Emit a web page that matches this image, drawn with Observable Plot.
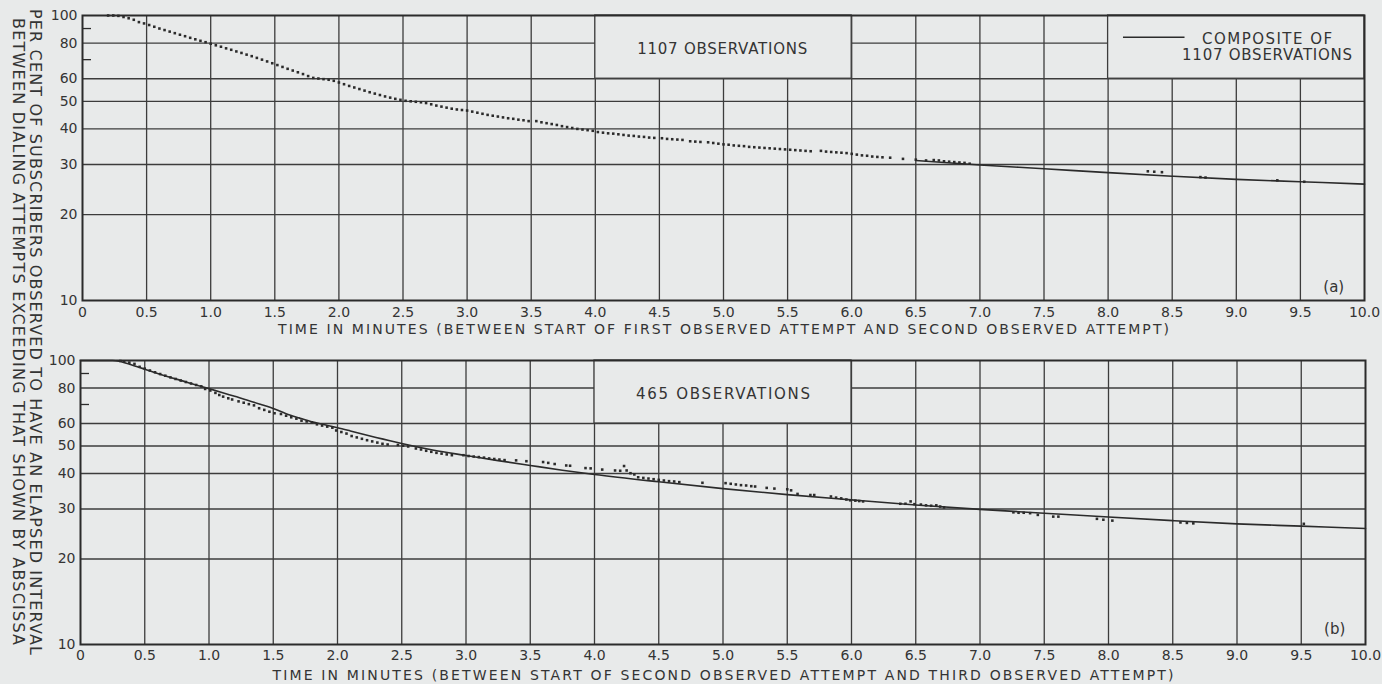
<!DOCTYPE html>
<html>
<head>
<meta charset="utf-8">
<script src="https://cdn.jsdelivr.net/npm/d3@7"></script>
<script src="https://cdn.jsdelivr.net/npm/@observablehq/plot@0.6"></script>
<style>
  html, body { margin: 0; padding: 0; background: #e8eaea; }
  #chart { position: relative; width: 1382px; height: 684px; background: #e8eaea; overflow: hidden; }
  #chart svg { position: absolute; left: 0; }
</style>
</head>
<body>
<div id="chart"></div>
<script>
// ---- axes ----
const xTickValues = [0, 0.5, 1, 1.5, 2, 2.5, 3, 3.5, 4, 4.5, 5, 5.5, 6, 6.5, 7, 7.5, 8, 8.5, 9, 9.5, 10];
const xGridValues = [0.5, 1, 1.5, 2, 2.5, 3, 3.5, 4, 4.5, 5, 5.5, 6, 6.5, 7, 7.5, 8, 8.5, 9, 9.5];
const yTickValues = [10, 20, 30, 40, 50, 60, 80, 100];
const yGridValues = [20, 30, 40, 50, 60, 80];
const yShortTicks = [70, 90];

// ---- composite curve of 1107 observations: [minutes, per cent] ----
const compositeCurve = [
  [0, 100], [0.25, 100], [0.3, 99.4], [0.4, 96.4], [0.5, 93.2], [0.6, 90.0], [0.7, 87.2],
  [0.8, 84.6], [0.9, 82.0], [1.0, 79.6], [1.1, 77.2], [1.2, 74.8], [1.3, 72.5], [1.4, 70.1],
  [1.5, 67.7], [1.6, 65.0], [1.7, 62.8], [1.8, 60.8], [1.9, 59.4], [2.0, 58.0], [2.1, 56.5],
  [2.2, 55.0], [2.3, 53.6], [2.4, 52.3], [2.5, 51.0], [2.75, 48.3], [3.0, 46.3], [3.25, 44.4],
  [3.5, 42.7], [3.75, 41.1], [4.0, 39.7], [4.5, 37.4], [5.0, 35.4], [5.5, 33.7], [6.0, 32.3],
  [6.5, 31.0], [7.0, 29.9], [7.5, 29.0], [8.0, 28.1], [8.5, 27.3], [9.0, 26.6], [9.5, 26.1], [10.0, 25.6]
];

// ---- observed points, first to second attempt (1107 observations) ----
const observedFirstToSecond = [
  [0.20, 100], [0.24, 100], [0.28, 99.7], [0.32, 98.8], [0.36, 97.8], [0.40, 96.6], [0.44, 94.8],
  [0.48, 93.8], [0.52, 92.6], [0.56, 91.3], [0.60, 90.0], [0.64, 88.9], [0.68, 87.8], [0.72, 86.7],
  [0.76, 85.6], [0.80, 84.6], [0.84, 83.5], [0.88, 82.5], [0.92, 81.5], [0.96, 80.6], [1.00, 79.6],
  [1.04, 78.6], [1.08, 77.7], [1.12, 76.7], [1.16, 75.8], [1.20, 74.8], [1.24, 73.9], [1.28, 72.9],
  [1.32, 72.0], [1.36, 71.0], [1.40, 70.0], [1.44, 69.0], [1.48, 68.0], [1.52, 67.0], [1.56, 66.0],
  [1.60, 65.0], [1.64, 64.1], [1.68, 63.2], [1.72, 62.3], [1.76, 61.3], [1.80, 60.4], [1.84, 60.1],
  [1.88, 59.8], [1.92, 59.5], [1.96, 59.0], [2.00, 58.2], [2.04, 57.4], [2.08, 56.6], [2.12, 55.9],
  [2.16, 55.2], [2.20, 54.5], [2.24, 53.8], [2.28, 53.2], [2.32, 52.6], [2.36, 52.0], [2.40, 51.5],
  [2.44, 51.0], [2.48, 50.6], [2.52, 50.2], [2.56, 50.0], [2.60, 49.8], [2.64, 49.6], [2.68, 49.3],
  [2.72, 48.8], [2.76, 48.3], [2.80, 47.9], [2.84, 47.5], [2.88, 47.1], [2.92, 46.8], [2.96, 46.6],
  [3.00, 46.4], [3.04, 46.0], [3.08, 45.6], [3.12, 45.2], [3.16, 44.8], [3.20, 44.5], [3.24, 44.2],
  [3.28, 43.9], [3.32, 43.6], [3.36, 43.4], [3.40, 43.1], [3.44, 42.9], [3.48, 42.6], [3.54, 42.6],
  [3.58, 42.2], [3.62, 41.9], [3.66, 41.6], [3.70, 41.3], [3.74, 40.9], [3.78, 40.6], [3.82, 40.3],
  [3.86, 40.0], [3.90, 39.8], [3.94, 39.6], [3.98, 39.4], [4.02, 39.0], [4.06, 38.8], [4.10, 38.6],
  [4.14, 38.5], [4.18, 38.3], [4.22, 38.1], [4.26, 37.9], [4.30, 37.8], [4.34, 37.6], [4.38, 37.5],
  [4.42, 37.3], [4.46, 37.2], [4.52, 37.1], [4.56, 36.9], [4.60, 36.8], [4.64, 36.7], [4.68, 36.6],
  [4.74, 36.2], [4.78, 36.1], [4.82, 36.0], [4.88, 35.9], [4.92, 35.7], [4.96, 35.5], [5.00, 35.3],
  [5.04, 35.2], [5.08, 35.0], [5.12, 34.9], [5.16, 34.8], [5.20, 34.6], [5.24, 34.5], [5.28, 34.4],
  [5.32, 34.3], [5.36, 34.2], [5.40, 34.1], [5.44, 34.0], [5.48, 33.9], [5.52, 33.8], [5.56, 33.7],
  [5.60, 33.6], [5.64, 33.5], [5.68, 33.4], [5.76, 33.5], [5.80, 33.3], [5.84, 33.2], [5.88, 33.1],
  [5.92, 33.0], [5.96, 32.9], [6.00, 32.7], [6.04, 32.5], [6.08, 32.3], [6.12, 32.2], [6.16, 32.0],
  [6.20, 31.9], [6.24, 31.8], [6.30, 31.7], [6.40, 31.4], [6.50, 31.2], [6.58, 31.0], [6.64, 31.1],
  [6.68, 31.0], [6.72, 30.8], [6.76, 30.7], [6.80, 30.6], [6.84, 30.5], [6.88, 30.4], [6.92, 30.2],
  [8.31, 28.4], [8.36, 28.3], [8.42, 28.2], [8.72, 27.1], [8.76, 27.0], [9.32, 26.4], [9.53, 26.1]
];

// ---- observed points, second to third attempt (465 observations) ----
const observedSecondToThird = [
  [0.31, 99.6], [0.34, 99.3], [0.38, 98.3], [0.42, 97.3], [0.46, 95.0], [0.50, 93.6], [0.54, 92.2],
  [0.58, 90.9], [0.62, 89.6], [0.66, 88.4], [0.70, 87.2], [0.74, 86.1], [0.78, 85.0], [0.82, 84.0],
  [0.86, 83.0], [0.90, 82.0], [0.94, 81.1], [0.97, 79.4], [1.01, 78.4], [1.05, 76.9], [1.08, 75.6],
  [1.11, 74.6], [1.15, 73.6], [1.18, 72.9], [1.23, 71.8], [1.27, 71.0], [1.31, 70.2], [1.35, 69.5],
  [1.39, 67.9], [1.43, 67.0], [1.47, 66.0], [1.51, 65.2], [1.56, 64.8], [1.60, 63.9], [1.64, 63.1],
  [1.68, 62.4], [1.72, 61.4], [1.76, 61.0], [1.80, 60.6], [1.84, 59.6], [1.88, 59.0], [1.92, 58.5],
  [1.96, 58.0], [1.99, 56.7], [2.03, 56.0], [2.07, 55.3], [2.11, 54.2], [2.15, 53.6], [2.19, 53.0],
  [2.23, 52.4], [2.27, 51.9], [2.31, 51.4], [2.35, 50.9], [2.39, 50.6], [2.47, 50.4], [2.51, 50.1],
  [2.55, 49.8], [2.61, 49.0], [2.65, 48.6], [2.69, 48.1], [2.73, 47.7], [2.77, 47.3], [2.81, 47.0],
  [2.85, 46.7], [2.89, 46.4], [2.98, 46.4], [3.02, 46.1], [3.06, 45.9], [3.10, 45.7], [3.14, 45.5],
  [3.18, 45.2], [3.22, 45.0], [3.26, 44.8], [3.30, 44.6], [3.39, 44.5], [3.47, 44.2], [3.60, 43.9],
  [3.64, 43.6], [3.69, 43.2], [3.78, 42.7], [3.81, 42.6], [3.93, 41.8], [3.97, 41.7], [4.06, 41.3],
  [4.16, 41.0], [4.20, 40.9], [4.23, 42.5], [4.25, 41.0], [4.28, 40.1], [4.31, 39.7], [4.34, 38.8],
  [4.38, 38.6], [4.42, 38.4], [4.46, 38.2], [4.50, 38.0], [4.54, 37.8], [4.58, 37.6], [4.62, 37.5],
  [4.66, 37.3], [4.84, 37.1], [5.02, 37.0], [5.06, 36.8], [5.10, 36.6], [5.14, 36.4], [5.18, 36.3],
  [5.22, 36.1], [5.25, 36.0], [5.34, 35.6], [5.40, 35.4], [5.50, 35.2], [5.53, 34.9], [5.58, 33.9],
  [5.68, 33.6], [5.71, 33.6], [5.84, 33.2], [5.88, 32.9], [5.92, 32.7], [5.96, 32.4], [5.99, 32.2],
  [6.03, 32.1], [6.06, 32.0], [6.09, 31.9], [6.38, 31.3], [6.42, 31.3], [6.46, 31.9], [6.49, 31.2],
  [6.54, 31.1], [6.58, 30.9], [6.62, 30.8], [6.66, 30.9], [6.69, 30.6], [6.72, 30.4], [7.26, 29.2],
  [7.30, 29.1], [7.34, 29.1], [7.39, 29.0], [7.45, 28.6], [7.57, 28.2], [7.61, 28.2], [7.91, 27.7],
  [7.96, 27.5], [8.03, 27.3], [8.56, 26.9], [8.61, 26.8], [8.66, 26.7], [9.52, 26.6]
];

// ---- texts ----
const yTitleLines = [
  "PER CENT OF SUBSCRIBERS OBSERVED TO HAVE AN ELAPSED INTERVAL",
  "BETWEEN DIALING ATTEMPTS EXCEEDING THAT SHOWN BY ABSCISSA"
];
const xTitles = [
  "TIME IN MINUTES (BETWEEN START OF FIRST OBSERVED ATTEMPT AND SECOND OBSERVED ATTEMPT)",
  "TIME IN MINUTES (BETWEEN START OF SECOND OBSERVED ATTEMPT AND THIRD OBSERVED ATTEMPT)"
];
const countLabels = ["1107 OBSERVATIONS", "465 OBSERVATIONS"];
const panelTags = ["(a)", "(b)"];
const legendLines = ["COMPOSITE OF", "1107 OBSERVATIONS"];

// ---- styling ----
const paper = "#e8eaea";
const ink = "#2b2b2b";
const gridInk = "#3c3c3c";
const textInk = "#343434";
const font = "'DejaVu Sans', 'Liberation Sans', sans-serif";

const chart = document.getElementById("chart");
const asPoints = rows => rows.map(([t, v]) => ({t, v}));

// stretch a text element to a given width
function fitText(svg, str, length) {
  d3.select(svg).selectAll("text")
    .filter(function () { return this.textContent === str; })
    .attr("textLength", length)
    .attr("lengthAdjust", "spacing");
}

function drawPanel(cfg) {
  const notes = cfg.notes.map(n => ({t: n.at[0], v: n.at[1], label: n.label}));
  const boxes = cfg.boxes.map(([t1, t2, v1, v2]) => ({t1, t2, v1, v2}));
  const curve = asPoints(compositeCurve).filter(d => d.t >= cfg.curveFrom);
  const marks = [
    Plot.ruleX(xGridValues, {stroke: gridInk, strokeWidth: 1.3}),
    Plot.ruleY(yGridValues, {stroke: gridInk, strokeWidth: 1.3}),
    Plot.rect(boxes, {x1: "t1", x2: "t2", y1: "v1", y2: "v2", fill: paper, stroke: gridInk, strokeWidth: 1.3}),
    Plot.ruleY(yShortTicks, {x1: 0, x2: 0.07, stroke: ink, strokeWidth: 1.3}),
    Plot.frame({stroke: ink, strokeWidth: 2}),
    Plot.axisX(xTickValues, {tickSize: 0, tickPadding: cfg.tickPad, fontSize: 14, label: null,
      tickFormat: d => d === 0 ? "0" : d.toFixed(1)}),
    Plot.axisY(yTickValues, {tickSize: 0, tickPadding: 5, fontSize: 14, label: null,
      tickFormat: d => String(d)}),
    Plot.line(curve, {x: "t", y: "v", stroke: ink, strokeWidth: 1.6, curve: "monotone-x"}),
    Plot.dot(asPoints(cfg.observed), {x: "t", y: "v", r: 1.45, symbol: "square", fill: ink}),
    Plot.text(notes, {x: "t", y: "v", text: "label", fontSize: 15, fill: textInk}),
    Plot.text([cfg.title], {frameAnchor: "bottom", lineAnchor: "middle", dy: cfg.titleDy, fontSize: 14, fill: textInk})
  ];
  if (cfg.legendKey) {
    const k = cfg.legendKey;
    marks.push(Plot.ruleY([k.v], {x1: k.t1, x2: k.t2, stroke: ink, strokeWidth: 1.6}));
  }
  const svg = Plot.plot({
    width: 1382,
    height: cfg.height,
    marginTop: cfg.marginTop,
    marginBottom: 40,
    marginLeft: cfg.marginLeft,
    marginRight: cfg.marginRight,
    style: {background: "transparent", color: textInk, fontFamily: font, fontSize: "14px"},
    x: {domain: [0, 10]},
    y: {type: "log", domain: [10, 100]},
    marks
  });
  svg.style.top = cfg.top + "px";
  chart.appendChild(svg);
  fitText(svg, cfg.title, cfg.titleLength);
  for (const [str, len] of cfg.fit) fitText(svg, str, len);
  return svg;
}

// (a) first to second attempt: the observed points carry the curve up to 6.5 minutes
drawPanel({
  top: 0, height: 340, marginTop: 15, marginLeft: 82, marginRight: 18,
  observed: observedFirstToSecond, curveFrom: 6.5,
  tickPad: 7, title: xTitles[0], titleDy: 29, titleLength: 891,
  boxes: [[4, 6, 60, 100], [8, 10, 60, 100]],
  notes: [
    {label: countLabels[0], at: [4.99, 76.0]},
    {label: panelTags[0], at: [9.76, 11.1]},
    {label: legendLines[0], at: [9.24, 82.8]},
    {label: legendLines[1], at: [9.24, 72.8]}
  ],
  legendKey: {t1: 8.12, t2: 8.6, v: 83.9},
  fit: [[countLabels[0], 170], [legendLines[0], 130]]
});

// (b) second to third attempt, with the composite curve for comparison
drawPanel({
  top: 340, height: 344, marginTop: 20, marginLeft: 80, marginRight: 17,
  observed: observedSecondToThird, curveFrom: 0,
  tickPad: 6, title: xTitles[1], titleDy: 31, titleLength: 901,
  boxes: [[4, 6, 60, 100]],
  notes: [
    {label: countLabels[1], at: [5.0, 76.3]},
    {label: panelTags[1], at: [9.76, 11.3]}
  ],
  fit: [[countLabels[1], 174]]
});

// shared vertical title, reading top to bottom
const ySvg = d3.create("svg")
  .attr("width", 60).attr("height", 684)
  .style("top", "0px");
ySvg.selectAll("text")
  .data(yTitleLines)
  .join("text")
  .attr("transform", (d, i) => `translate(${i === 0 ? 35.5 : 18.5},${i === 0 ? 332 : 331.5}) rotate(90)`)
  .attr("text-anchor", "middle")
  .attr("dominant-baseline", "central")
  .attr("textLength", (d, i) => i === 0 ? 646 : 627)
  .attr("lengthAdjust", "spacing")
  .attr("fill", textInk)
  .style("font-family", font)
  .style("font-size", "16px")
  .text(d => d);
chart.appendChild(ySvg.node());
</script>
</body>
</html>
